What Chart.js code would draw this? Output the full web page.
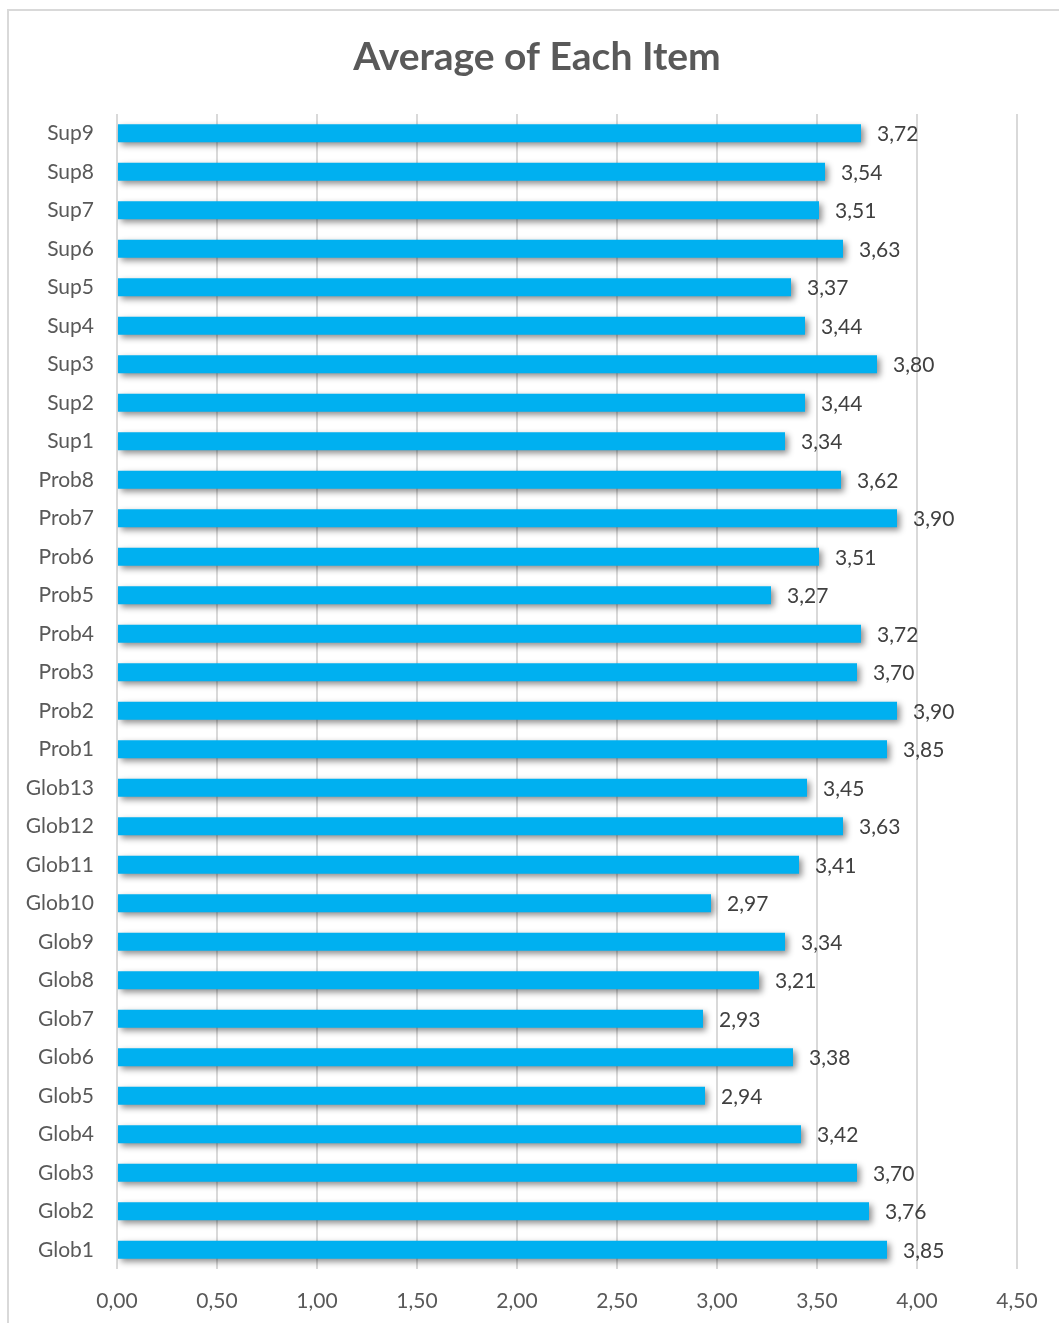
<!doctype html>
<html lang="en">
<head>
  <meta charset="utf-8">
  <title>Average of Each Item</title>
  <style>
    * {
      margin: 0;
      padding: 0;
    }

    body {
      background: white;
      width: 1059px;
      height: 1323px;
      overflow: hidden;
      position: relative;
    }

    .frame {
      position: absolute;
      left: 7px;
      top: 9px;
      width: 1060px;
      height: 1330px;
      border: solid 2px #d9d9d9;
    }

    #myChart {
      position: absolute;
      left: 0;
      top: 0;
    }
  </style>
</head>
<body>
<div class="frame"></div>
<canvas id="myChart" width="1059" height="1323"></canvas>
<script src="https://cdn.jsdelivr.net/npm/chart.js"></script>
<script>
  // data (top to bottom as in the chart)
  const items = [
    'Sup9', 'Sup8', 'Sup7', 'Sup6', 'Sup5', 'Sup4', 'Sup3', 'Sup2', 'Sup1',
    'Prob8', 'Prob7', 'Prob6', 'Prob5', 'Prob4', 'Prob3', 'Prob2', 'Prob1',
    'Glob13', 'Glob12', 'Glob11', 'Glob10', 'Glob9', 'Glob8', 'Glob7',
    'Glob6', 'Glob5', 'Glob4', 'Glob3', 'Glob2', 'Glob1'
  ];
  const averages = [
    3.72, 3.54, 3.51, 3.63, 3.37, 3.44, 3.80, 3.44, 3.34,
    3.62, 3.90, 3.51, 3.27, 3.72, 3.70, 3.90, 3.85,
    3.45, 3.63, 3.41, 2.97, 3.34, 3.21, 2.93,
    3.38, 2.94, 3.42, 3.70, 3.76, 3.85
  ];
  const axisMin = 0;
  const axisMax = 4.5;
  const axisStep = 0.5;
  const chartTitle = 'Average of Each Item';

  const fmt = v => Number(v).toFixed(2).replace('.', ',');
  const fontFamily = 'Lato, "Open Sans", sans-serif';

  // title centred on the whole frame, not just the plot
  const frameTitle = {
    id: 'frameTitle',
    afterDraw(chart) {
      const ctx = chart.ctx;
      ctx.save();
      ctx.font = 'bold 39px ' + fontFamily;
      ctx.fillStyle = '#595959';
      ctx.textAlign = 'center';
      ctx.textBaseline = 'middle';
      ctx.fillText(chartTitle, 537, 57);
      ctx.restore();
    }
  };

  // soft shadow under the bars
  const barShadow = {
    id: 'barShadow',
    beforeDatasetsDraw(chart) {
      const ctx = chart.ctx;
      ctx.save();
      ctx.shadowColor = 'rgba(0, 0, 0, 0.45)';
      ctx.shadowBlur = 6;
      ctx.shadowOffsetX = 3;
      ctx.shadowOffsetY = 3;
    },
    afterDatasetsDraw(chart) {
      chart.ctx.restore();
    }
  };

  // value labels right of each bar
  const valueLabels = {
    id: 'valueLabels',
    afterDatasetsDraw(chart) {
      const ctx = chart.ctx;
      const meta = chart.getDatasetMeta(0);
      ctx.save();
      ctx.shadowColor = 'transparent';
      ctx.font = '21px ' + fontFamily;
      ctx.fillStyle = '#404040';
      ctx.textAlign = 'left';
      ctx.textBaseline = 'middle';
      meta.data.forEach((bar, i) => {
        ctx.fillText(fmt(averages[i]), bar.x + 16, bar.y + 1);
      });
      ctx.restore();
    }
  };

  const data = {
    labels: items,
    datasets: [{
      label: 'Average',
      data: averages,
      backgroundColor: '#00b0f0',
      borderWidth: 0,
      barPercentage: 0.47,
      categoryPercentage: 1
    }]
  };

  const config = {
    type: 'bar',
    data,
    options: {
      indexAxis: 'y',
      responsive: false,
      animation: false,
      layout: {
        padding: { left: 0, right: 42, top: 114, bottom: 0 }
      },
      plugins: {
        legend: { display: false },
        tooltip: { enabled: false },
        title: { display: false }
      },
      scales: {
        x: {
          min: axisMin,
          max: axisMax,
          grid: {
            color: '#d9d9d9',
            lineWidth: 2,
            drawTicks: false
          },
          border: { display: false },
          ticks: {
            stepSize: axisStep,
            padding: 20,
            color: '#595959',
            font: { family: fontFamily, size: 21 },
            callback: v => fmt(v)
          },
          afterFit(scale) {
            scale.height = 54;
          }
        },
        y: {
          grid: { display: false, drawTicks: false },
          border: { display: false },
          ticks: {
            padding: 23,
            color: '#595959',
            font: { family: fontFamily, size: 21 }
          },
          afterFit(scale) {
            scale.width = 117;
          }
        }
      }
    },
    plugins: [barShadow, valueLabels, frameTitle]
  };

  const myChart = new Chart(document.getElementById('myChart'), config);
</script>
</body>
</html>
